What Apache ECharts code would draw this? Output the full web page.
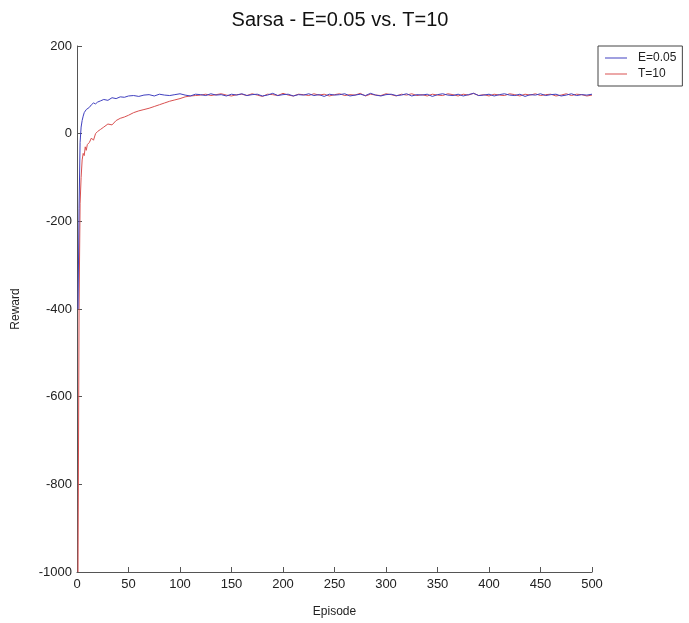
<!DOCTYPE html>
<html>
<head>
<meta charset="utf-8">
<script src="https://cdn.jsdelivr.net/npm/echarts@6/dist/echarts.min.js"></script>
<style>
  html, body { margin: 0; padding: 0; background: #fff; }
  #chart { width: 689px; height: 623px; }
</style>
</head>
<body>
<div id="chart"></div>
<script>
// Episode numbers at which the running reward was sampled
const episodes = [
  1, 2, 3, 4, 5, 6, 7, 8, 9, 10, 12, 14, 16, 18, 20, 23, 26, 30, 34, 38, 42, 46, 50,
  55, 60, 65, 70, 75, 80, 85, 90, 95, 100,
  105, 110, 115, 120, 125, 130, 135, 140, 145, 150,
  155, 160, 165, 170, 175, 180, 185, 190, 195, 200,
  205, 210, 215, 220, 225, 230, 235, 240, 245, 250,
  255, 260, 265, 270, 275, 280, 285, 290, 295, 300,
  305, 310, 315, 320, 325, 330, 335, 340, 345, 350,
  355, 360, 365, 370, 375, 380, 385, 390, 395, 400,
  405, 410, 415, 420, 425, 430, 435, 440, 445, 450,
  455, 460, 465, 470, 475, 480, 485, 490, 495, 500
];

// Epsilon-greedy, E = 0.05
const rewardEpsilon = [
  -400, -170, -20, 15, 30, 40, 48, 50, 55, 58, 60, 66, 70, 68, 72, 75, 78, 76, 82, 80, 84, 83, 86,
  87, 85, 88, 89, 86, 90, 88, 87, 89, 91,
  88, 86, 90, 89, 87, 91, 88, 89, 86, 90,
  88, 91, 87, 89, 90, 86, 88, 92, 87, 89,
  90, 86, 89, 88, 91, 87, 89, 85, 90, 88,
  89, 91, 86, 88, 90, 87, 92, 88, 86, 89,
  90, 87, 88, 91, 86, 89, 88, 90, 85, 89,
  91, 88, 87, 90, 86, 89, 92, 87, 88, 90,
  86, 89, 91, 88, 87, 90, 85, 89, 88, 91,
  87, 89, 90, 86, 88, 91, 87, 89, 88, 90
];

// Softmax, T = 10
const rewardSoftmax = [
  -1000, -400, -160, -100, -60, -45, -50, -30, -38, -25, -20, -10, -15, 0, 5, 10, 15, 22, 20, 30, 35, 38, 42,
  48, 52, 55, 58, 62, 66, 70, 74, 77, 80,
  84, 86, 87, 88, 90, 87, 89, 91, 88, 86,
  89, 90, 87, 91, 88, 85, 90, 89, 87, 92,
  88, 86, 90, 89, 87, 91, 88, 90, 86, 89,
  91, 87, 89, 88, 92, 86, 90, 88, 87, 91,
  89, 86, 90, 88, 91, 87, 89, 86, 90, 88,
  87, 91, 89, 86, 90, 88, 92, 87, 89, 86,
  90, 88, 87, 91, 89, 86, 90, 88, 91, 87,
  89, 90, 86, 88, 91, 87, 90, 89, 86, 88
];

const xTicks = { min: 0, max: 500, interval: 50 };
const yTicks = { min: -1000, max: 200, interval: 200 };

const pair = (vals) => episodes.map((e, i) => [e, vals[i]]);

const font = '"Liberation Sans", Arial, Helvetica, sans-serif';
const chart = echarts.init(document.getElementById('chart'), null, { renderer: 'canvas' });

chart.setOption({
  animation: false,
  backgroundColor: '#ffffff',
  textStyle: { fontFamily: font },
  title: {
    text: 'Sarsa - E=0.05 vs. T=10',
    left: 335,
    textAlign: 'center',
    top: 5,
    textStyle: { fontSize: 20, fontWeight: 'normal', color: '#111', fontFamily: font }
  },
  legend: {
    orient: 'vertical',
    left: 598,
    top: 46,
    padding: [6, 6, 6, 7],
    itemGap: 4,
    itemWidth: 22,
    itemHeight: 1,
    icon: 'rect',
    borderColor: '#444',
    borderWidth: 1,
    textStyle: { fontSize: 12, color: '#222', fontFamily: font, padding: [0, 0, 0, 6] },
    data: ['E=0.05', 'T=10']
  },
  grid: { left: 77, right: 97, top: 46, bottom: 49, containLabel: false },
  xAxis: {
    type: 'value',
    min: xTicks.min, max: xTicks.max, interval: xTicks.interval,
    name: 'Episode',
    nameLocation: 'middle',
    nameGap: 34,
    nameTextStyle: { fontSize: 12, color: '#222' },
    axisLine: { show: true, onZero: false, lineStyle: { color: '#555', width: 1 } },
    axisTick: { show: true, inside: true, length: 5, lineStyle: { color: '#555' } },
    axisLabel: { fontSize: 13, color: '#222', margin: 6 },
    splitLine: { show: false }
  },
  yAxis: {
    type: 'value',
    min: yTicks.min, max: yTicks.max, interval: yTicks.interval,
    name: 'Reward',
    nameLocation: 'middle',
    nameGap: 55,
    nameTextStyle: { fontSize: 12, color: '#222' },
    axisLine: { show: true, onZero: false, lineStyle: { color: '#555', width: 1 } },
    axisTick: { show: true, inside: true, length: 5, lineStyle: { color: '#555' } },
    axisLabel: { fontSize: 13, color: '#222', margin: 5, formatter: (v) => String(v) },
    splitLine: { show: false }
  },
  series: [
    {
      name: 'E=0.05',
      type: 'line',
      data: pair(rewardEpsilon),
      symbol: 'none',
      z: 3,
      lineStyle: { color: '#4040c0', width: 1 },
      itemStyle: { color: '#4040c0' }
    },
    {
      name: 'T=10',
      type: 'line',
      data: pair(rewardSoftmax),
      symbol: 'none',
      z: 2,
      lineStyle: { color: '#d85050', width: 1 },
      itemStyle: { color: '#d85050' }
    }
  ]
});
</script>
</body>
</html>
